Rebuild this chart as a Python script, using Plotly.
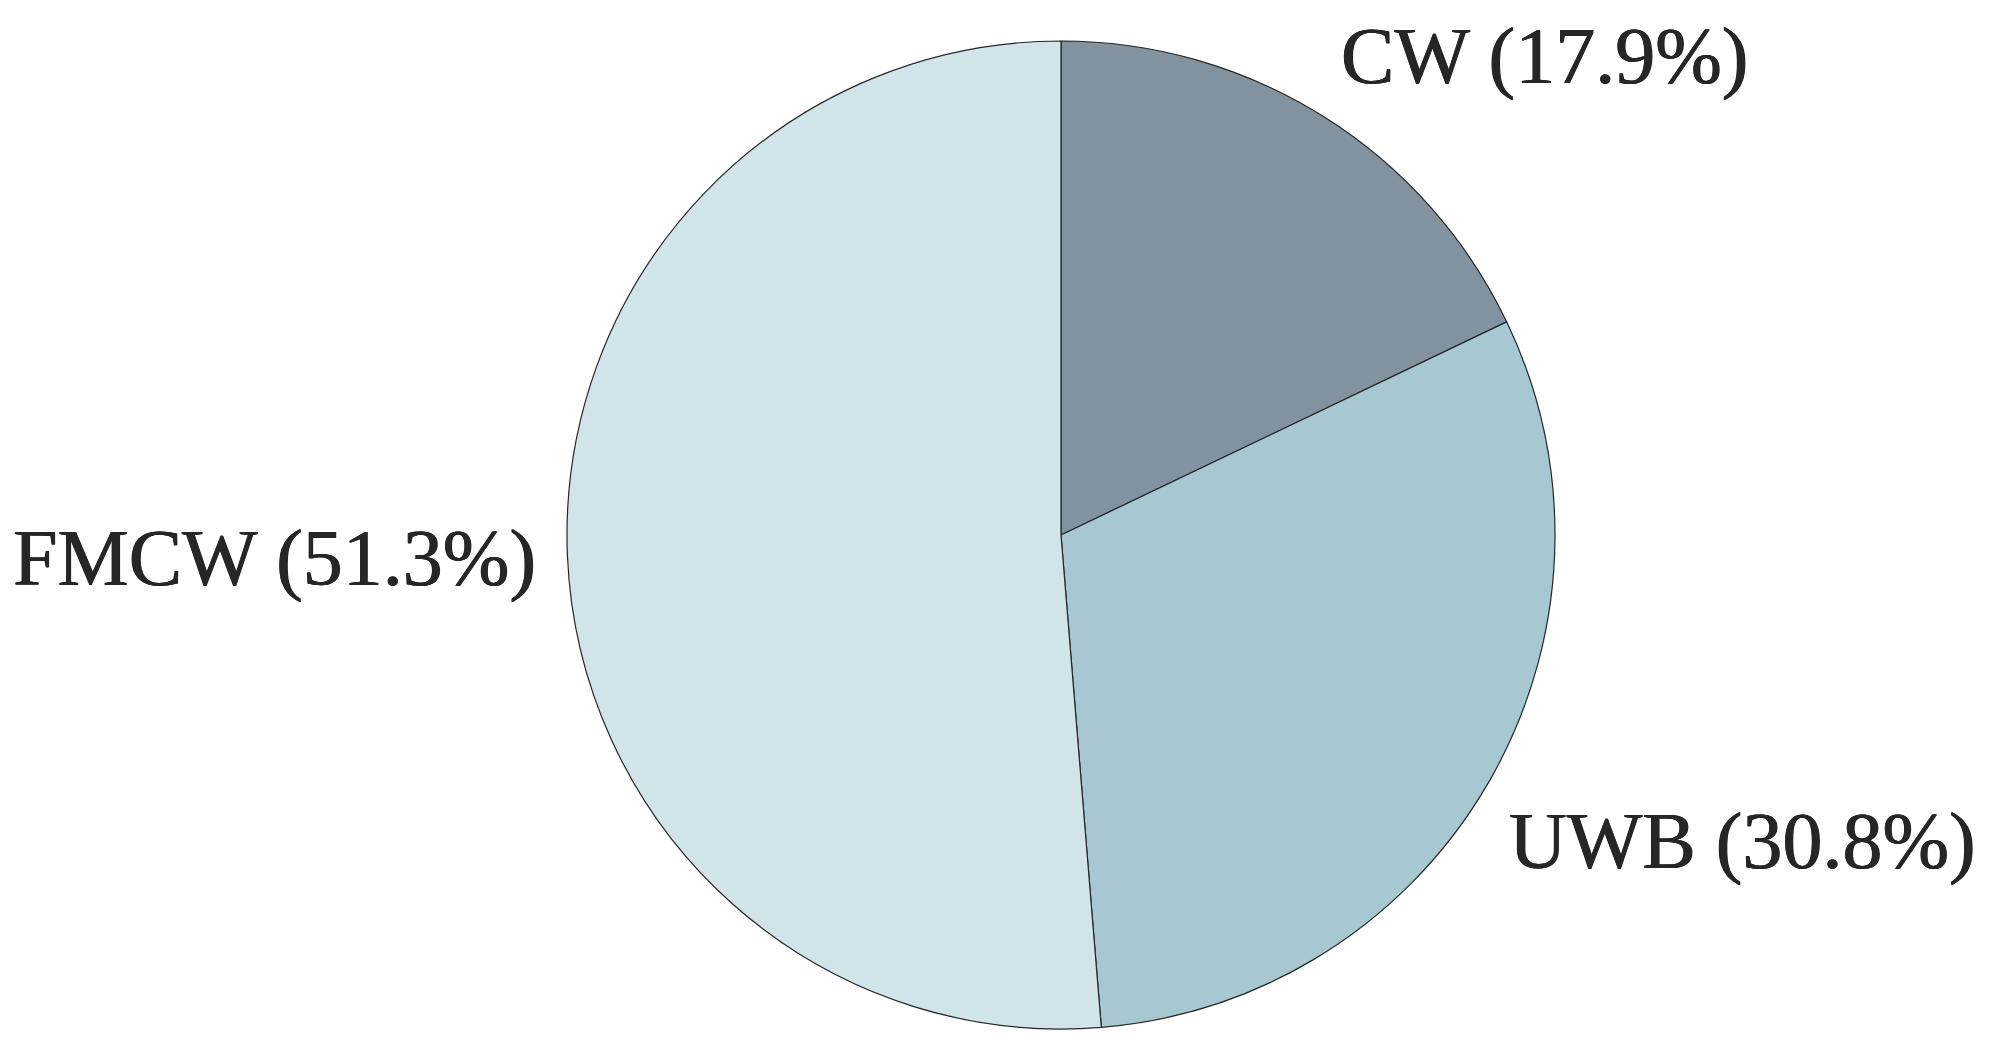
import plotly.graph_objects as go

labels = ["CW", "UWB", "FMCW"]
values = [17.9, 30.8, 51.3]
colors = ["#83929F", "#A7C8D0", "#D1E4E9"]

W, H = 1996, 1050
cx, cy, r = 1053, 527, 494

fig = go.Figure(go.Pie(
    labels=labels, values=values, sort=False, direction="clockwise", rotation=0,
    marker=dict(colors=colors, line=dict(color="#262626", width=1.2)),
    textinfo="none", hoverinfo="label+percent", showlegend=False,
    domain=dict(x=[(cx - r) / W, (cx + r) / W], y=[(H - cy - r) / H, (H - cy + r) / H]),
))

label_pos = {"CW": (1331, 49), "UWB": (1499, 833), "FMCW": (3, 550)}
for lab, val in zip(labels, values):
    px, py = label_pos[lab]
    fig.add_annotation(
        x=px / W, y=1 - py / H, xref="paper", yref="paper",
        text=f"{lab} ({val}%)", showarrow=False, xanchor="left", yanchor="middle",
        font=dict(family="Liberation Serif", size=80, color="#262626",
                  shadow="0.6px 0 0 #262626, -0.4px 0 0 #262626"),
    )

fig.update_layout(width=W, height=H, margin=dict(l=0, r=0, t=0, b=0),
                  paper_bgcolor="white", plot_bgcolor="white")
fig.write_html("out.html")
